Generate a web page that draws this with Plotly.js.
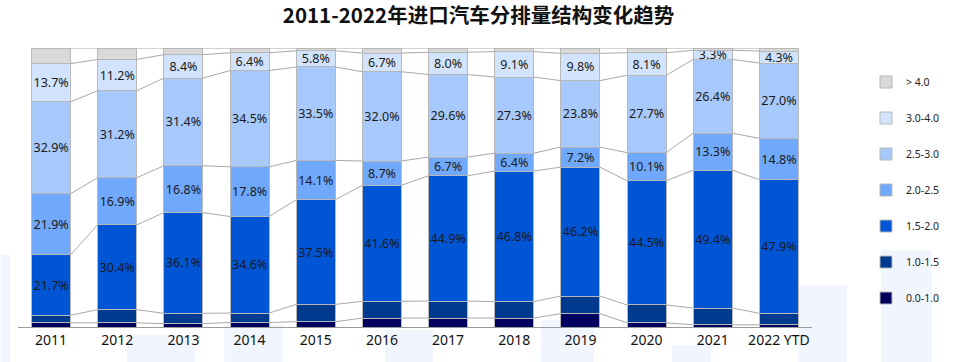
<!DOCTYPE html>
<html><head><meta charset="utf-8">
<script src="https://cdn.plot.ly/plotly-3.0.1.min.js"></script>
<style>html,body{margin:0;padding:0;background:#fff}#c{width:957px;height:362px}</style>
</head><body><div id="c"></div>
<script>
const categories = ['2011','2012','2013','2014','2015','2016','2017','2018','2019','2020','2021','2022 YTD'];
const seriesNames = ['0.0-1.0','1.0-1.5','1.5-2.0','2.0-2.5','2.5-3.0','3.0-4.0','> 4.0'];
const s00_10 = [1.5,1.5,1.2,1.6,1.9,3.2,3.2,3.2,4.8,1.5,0.8,0.8];
const s10_15 = [2.7,4.7,3.7,3.4,6.2,6.0,6.1,5.9,6.3,6.4,6.0,4.1];
const s15_20 = [21.7,30.4,36.1,34.6,37.5,41.6,44.9,46.8,46.2,44.5,49.4,47.9];
const s20_25 = [21.9,16.9,16.8,17.8,14.1,8.7,6.7,6.4,7.2,10.1,13.3,14.8];
const s25_30 = [32.9,31.2,31.4,34.5,33.5,32.0,29.6,27.3,23.8,27.7,26.4,27.0];
const s30_40 = [13.7,11.2,8.4,6.4,5.8,6.7,8.0,9.1,9.8,8.1,3.3,4.3];
const s40 = [5.6,4.1,2.4,1.7,1.0,1.8,1.5,1.3,1.9,1.7,0.8,1.1];
const labeled = [false,false,true,true,true,true,false];
const colors = ['#00005e','#003a8f','#0055d5','#70a9fb','#a7c9fb','#d2e4fd','#d9d9d9'];

const series = [s00_10,s10_15,s15_20,s20_25,s25_30,s30_40,s40];
const xIdx = categories.map((c,i)=>i);
const W = 0.59;
const FONT = 'Noto Sans, Open Sans, sans-serif';
const traces = [];
series.forEach((vals,k)=>{
  traces.push({
    type:'bar', x:xIdx, y:vals, name:seriesNames[k], width:W,
    legendgroup:'g'+k, legendrank: 1000 - k*10,
    marker:{color:colors[k], line:{color:'#b8b8b8', width:1}},
    text: labeled[k] ? vals.map(v=>v.toFixed(1)+'%') : null,
    textposition: labeled[k] ? 'inside' : 'none',
    insidetextanchor:'middle', textangle:0,
    textfont:{color:'#1a1a1a', size:12.5, family:FONT},
    constraintext:'none',
    hoverinfo:'skip'
  });
});
// connector (series) lines between bars, from cumulative sums
const cum = categories.map(()=>0);
series.forEach((vals,k)=>{
  vals.forEach((v,i)=>{cum[i]+=v;});
  const lx=[], ly=[];
  for(let i=0;i<categories.length-1;i++){
    lx.push(i+W/2, i+1-W/2, null);
    ly.push(cum[i], cum[i+1], null);
  }
  traces.push({type:'scatter', mode:'lines', x:lx, y:ly, showlegend:false, hoverinfo:'skip',
    line:{color:'#a8a8a8', width:1}, cliponaxis:false});
});

// faint decorative background blocks (pixel boxes -> paper coords)
const px2x = p => (p-18)/816, px2y = p => (327-p)/280;
const deco = [
  [0,255,10,362],[130,335,200,362],[230,325,290,362],[395,330,445,362],
  [555,320,610,362],[690,345,730,362],[820,285,870,362],[905,250,957,362]
].map(r=>({type:'rect',xref:'paper',yref:'paper',x0:px2x(r[0]),x1:px2x(r[2]),y0:px2y(r[3]),y1:px2y(r[1]),
  fillcolor:'#f1f6fe',line:{width:0},layer:'below'}));

const layout = {
  width:957, height:362,
  margin:{l:18,r:123,t:48,b:35},
  paper_bgcolor:'#fff', plot_bgcolor:'rgba(0,0,0,0)',
  barmode:'stack',
  title:{text:'2011-2022年进口汽车分排量结构变化趋势', x:0.5, xref:'container', xanchor:'center', y:0.955, yanchor:'middle',
    font:{family:'Noto Sans CJK SC, sans-serif', size:20.5, color:'#111', weight:'bold'}},
  xaxis:{range:[-0.5,11.5], tickvals:xIdx, ticktext:categories, showgrid:false, zeroline:false,
    showline:true, linecolor:'#9a9a9a', linewidth:1, ticks:'',
    tickfont:{family:FONT, size:14, color:'#111'}},
  yaxis:{range:[0,100], visible:false, fixedrange:true},
  showlegend:true,
  legend:{x:1.068, xanchor:'left', y:0.93, yanchor:'top', traceorder:'grouped',
    tracegroupgap:17, font:{family:FONT, size:10.5, color:'#222'},
    itemwidth:30, bgcolor:'rgba(0,0,0,0)'},
  uniformtext:{mode:'show', minsize:12.5},
  hovermode:false,
  shapes:deco
};
Plotly.newPlot('c', traces, layout, {staticPlot:true, displayModeBar:false});
</script></body></html>
